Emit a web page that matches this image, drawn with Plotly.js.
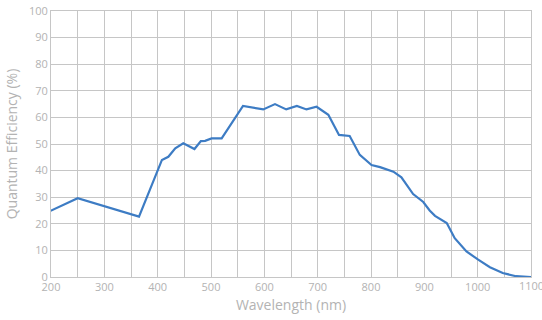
<!DOCTYPE html>
<html>
<head>
<meta charset="utf-8">
<script src="https://cdn.plot.ly/plotly-3.0.1.min.js"></script>
<style>html,body{margin:0;padding:0;background:#fff;}#chart{width:542px;height:320px;}</style>
</head>
<body>
<div id="chart"></div>
<script>
const wavelength = [195, 250, 365, 408, 420, 433, 448, 469, 481, 489, 501, 520, 560, 598, 620, 641, 661, 679, 698, 720, 740, 760, 779, 801, 817, 842, 857, 870, 879, 898, 910, 920, 942, 957, 979, 1001, 1023, 1047, 1072, 1100];
const efficiency = [24.5, 29.6, 22.7, 44, 45.2, 48.4, 50.3, 48.1, 51.1, 51.2, 52.1, 52.1, 64.3, 63.0, 65.0, 63.0, 64.3, 63.0, 64.0, 61.0, 53.4, 53.0, 45.9, 42.1, 41.3, 39.6, 37.5, 33.5, 31.2, 28.2, 25.0, 23.0, 20.3, 14.6, 9.6, 6.5, 3.7, 1.5, 0.3, 0];
const xTicks = [200, 300, 400, 500, 600, 700, 800, 900, 1000];
const lastTick = 1100;
const yTicks = [0, 10, 20, 30, 40, 50, 60, 70, 80, 90, 100];

const grid = '#c6c6c6';
const txt = '#b3b3b3';
const fontFam = 'Open Sans, Lato, sans-serif';

Plotly.newPlot('chart', [{
  x: wavelength, y: efficiency, type: 'scatter', mode: 'lines',
  line: {color: '#3d7cc4', width: 2.2, shape: 'linear'},
  hoverinfo: 'skip'
}], {
  width: 542, height: 320,
  margin: {l: 51, r: 11, t: 11, b: 43},
  paper_bgcolor: '#fff', plot_bgcolor: '#fff',
  showlegend: false,
  font: {family: fontFam, color: txt, size: 11},
  xaxis: {
    range: [200, 1100], tickvals: xTicks, ticktext: xTicks.map(String),
    minor: {dtick: 50, showgrid: true, gridcolor: grid, gridwidth: 1},
    showgrid: true, gridcolor: grid, gridwidth: 1,
    zeroline: false, showline: true, linecolor: grid, mirror: true,
    ticks: '', ticklen: 0, tickfont: {size: 11, color: txt},
    title: {text: 'Wavelength (nm)', font: {size: 14, color: txt}, standoff: 6}
  },
  yaxis: {
    range: [0, 100], tickvals: yTicks, ticktext: yTicks.map(String),
    showgrid: true, gridcolor: grid, gridwidth: 1,
    zeroline: false, showline: true, linecolor: grid, mirror: true,
    ticks: '', tickfont: {size: 11, color: txt},
    title: {text: 'Quantum Efficiency (%)', font: {size: 14, color: txt}, standoff: 8}
  },
  annotations: [{
    x: lastTick, xref: 'x', y: 0, yref: 'paper', yanchor: 'top', yshift: 1,
    xanchor: 'center', text: String(lastTick), showarrow: false,
    font: {family: fontFam, size: 11, color: txt}
  }]
}, {displayModeBar: false, staticPlot: true});
</script>
</body>
</html>
